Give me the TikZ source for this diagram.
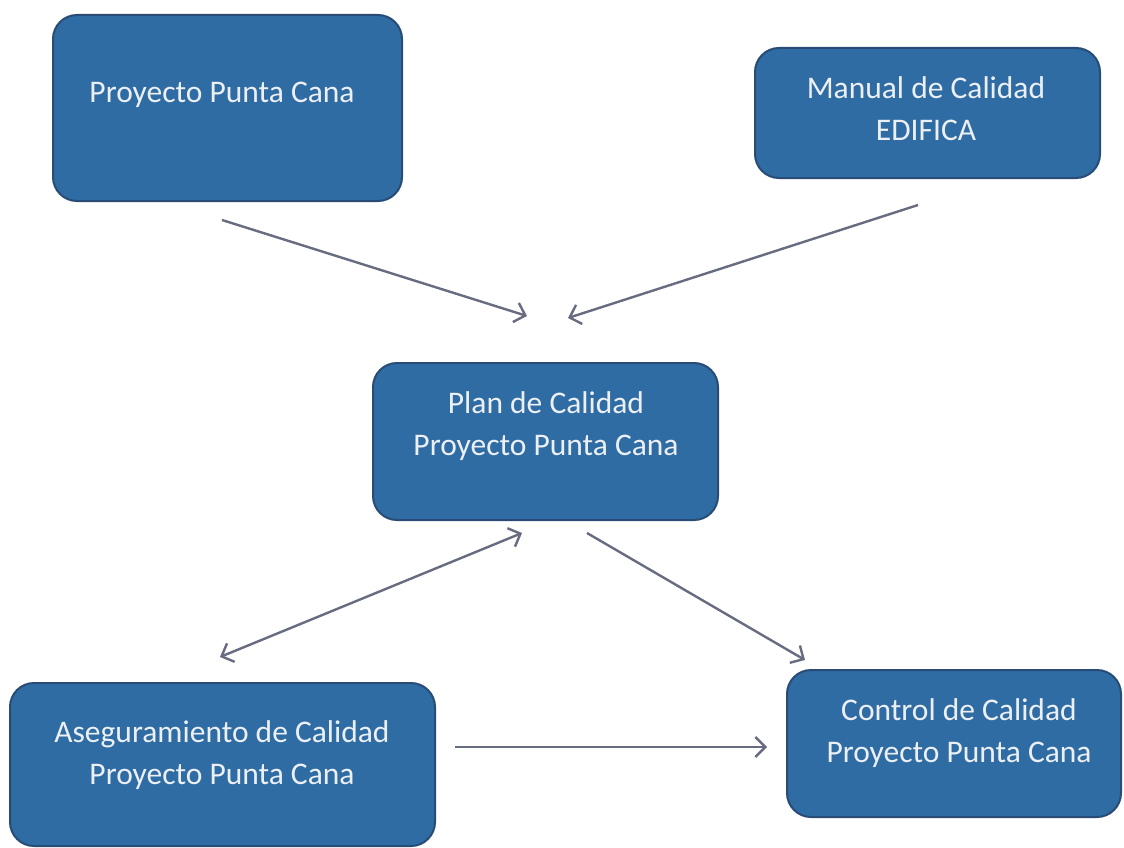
\documentclass[tikz,border=0pt]{standalone}
\usepackage{fontspec}
\setmainfont{Carlito}
\usetikzlibrary{arrows.meta}
\definecolor{boxfill}{RGB}{47,108,163}
\definecolor{boxedge}{RGB}{40,76,118}
\definecolor{boxtext}{RGB}{236,240,244}
\definecolor{arrowcol}{RGB}{104,108,128}
\tikzset{
  card/.style={draw=boxedge, line width=2pt, fill=boxfill, rounded corners=24pt},
  % anchor=base of a two-line label sits on the baseline of its last line
  cardtext/.style={text=boxtext, font=\fontsize{31.5}{42}\selectfont, align=center, anchor=base, inner sep=0pt},
  barb/.style={Straight Barb[length=10pt,width=20pt,line width=2.4pt]},
  link/.style={draw=arrowcol, line width=2.4pt, -{Straight Barb[length=10pt,width=20pt,line width=2.4pt]}},
  twoway/.style={draw=arrowcol, line width=2.4pt, {Straight Barb[length=10pt,width=20pt,line width=2.4pt]}-{Straight Barb[length=10pt,width=20pt,line width=2.4pt]}}
}
\begin{document}
\begin{tikzpicture}[x=1pt,y=-1pt]
\useasboundingbox[fill=white] (0,0) rectangle (1124,848);

% boxes
\draw[card] (53,15) rectangle (402,201) coordinate (b1);
\draw[card] (755,48) rectangle (1100,178) coordinate (b2);
\draw[card] (373,363) rectangle (718,520) coordinate (b3);
\draw[card] (10,683) rectangle (435,846) coordinate (b4);
\draw[card] (787,670) rectangle (1121,817) coordinate (b5);

% box labels
\node[cardtext] (t1) at (222,103) {Proyecto Punta Cana};
\node[cardtext] (t2) at (926,140) {Manual de Calidad\\EDIFICA};
\node[cardtext] (t3) at (546,455) {Plan de Calidad\\Proyecto Punta Cana};
\node[cardtext] (t4) at (222,784) {Aseguramiento de Calidad\\Proyecto Punta Cana};
\node[cardtext] (t5) at (959,762) {Control de Calidad\\Proyecto Punta Cana};

% connector end points
\coordinate (p1s) at (222,220);  \coordinate (p1e) at (527,316);
\coordinate (p2s) at (918,205);  \coordinate (p2e) at (568,318);
\coordinate (p3s) at (522,533);  \coordinate (p3e) at (220,657);
\coordinate (p4s) at (587,533);  \coordinate (p4e) at (805,660);
\coordinate (p5s) at (455,747);  \coordinate (p5e) at (767,747);

% connectors
\draw[link] (p1s) -- (p1e);
\draw[link] (p2s) -- (p2e);
\draw[twoway] (p3s) -- (p3e);
\draw[link] (p4s) -- (p4e);
\draw[link] (p5s) -- (p5e);
\end{tikzpicture}
\end{document}
